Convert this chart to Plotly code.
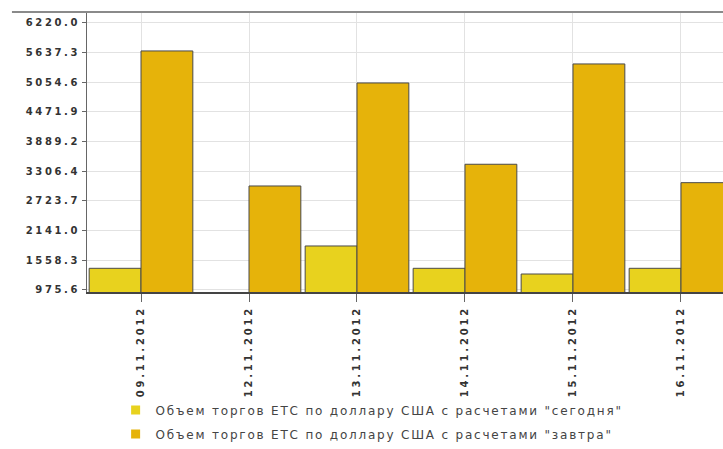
import plotly.graph_objects as go

dates = ["09.11.2012", "12.11.2012", "13.11.2012", "14.11.2012", "15.11.2012", "16.11.2012"]
today_vals = [1401, None, 1839, 1401, 1289, 1401]
tomorrow_vals = [5665, 3016, 5037, 3442, 5410, 3081]
y_ticks = [975.6, 1558.3, 2141.0, 2723.7, 3306.4, 3889.2, 4471.9, 5054.6, 5637.3, 6220.0]
y_ticklabels = ["%.1f" % v for v in y_ticks]
names = ['Объем торгов ЕТС по доллару США с расчетами "сегодня"',
         'Объем торгов ЕТС по доллару США с расчетами "завтра"']
colors = ["#E8D21E", "#E6B30A"]

x_ticktext = ['<span style="letter-spacing:2.8px">%s</span>' % d for d in dates]
y_ticktext = ['<span style="letter-spacing:2.6px">%s</span>' % t for t in y_ticklabels]

fig = go.Figure()
for vals, col, nm in zip([today_vals, tomorrow_vals], colors, names):
    fig.add_trace(go.Bar(x=dates, y=vals, name=nm, marker=dict(color=col, line=dict(color="#4a4a4a", width=1)),
                         showlegend=False))
for col, nm, g in zip(colors, names, ["a", "b"]):
    fig.add_trace(go.Scatter(x=[None], y=[None], mode="markers", name='<span style="letter-spacing:1.8px">%s</span>' % nm,
                             legendgroup=g,
                             marker=dict(symbol="square", size=9, color=col, line=dict(width=0))))

fig.update_layout(
    width=723, height=449,
    margin=dict(l=87, r=0, t=12, b=157),
    paper_bgcolor="white", plot_bgcolor="white",
    barmode="group", bargap=0.04, bargroupgap=0.0,
    font=dict(family="DejaVu Sans", color="#333"),
    legend=dict(x=0.045, y=-0.37, xanchor="left", yanchor="top", orientation="v",
                font=dict(size=12, color="#444"), tracegroupgap=5, bgcolor="rgba(0,0,0,0)"),
    xaxis=dict(type="category", range=[-0.5, 5.389], tickmode="array", tickvals=dates, ticktext=x_ticktext,
               tickangle=-90, tickfont=dict(size=10, color="#333", weight="bold"),
               ticks="outside", ticklen=8, tickcolor="#666",
               showgrid=True, gridcolor="#e2e2e2", gridwidth=1,
               showline=True, linecolor="#444", linewidth=2),
    yaxis=dict(range=[936, 6429], tickmode="array", tickvals=y_ticks, ticktext=y_ticktext,
               tickfont=dict(size=10, color="#333", weight="bold"),
               ticks="outside", ticklen=4, tickcolor="#666",
               showgrid=True, gridcolor="#e2e2e2", gridwidth=1, zeroline=False,
               showline=True, linecolor="#666", linewidth=1),
)
fig.add_shape(type="line", xref="paper", yref="paper", x0=-0.118, x1=1, y0=1, y1=1,
              line=dict(color="#8a8a8a", width=2))

fig.write_html("out.html")
